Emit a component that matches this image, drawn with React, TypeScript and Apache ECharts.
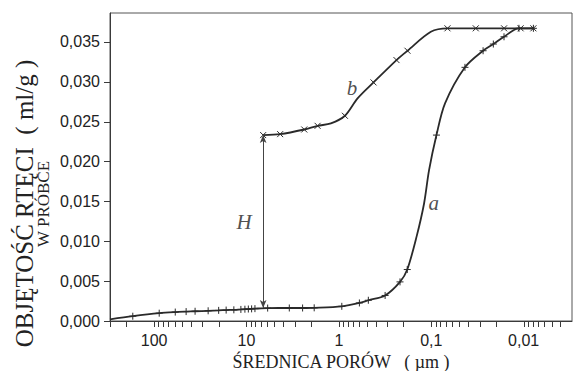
import React, { useEffect, useRef } from 'react';
import * as echarts from 'echarts';

// ---- axis ranges / ticks ----
const X_MIN = 0.003;
const X_MAX = 300;
const X_MAJOR = [0.01, 0.1, 1, 10, 100];
const Y_MIN = 0;
const Y_MAX = 0.0386;
const Y_STEP = 0.005;
const Y_TICKS = [0, 0.005, 0.01, 0.015, 0.02, 0.025, 0.03, 0.035];

// ---- curve a (intrusion, "+" markers) : pore diameter (µm), volume (ml/g), marker flag ----
const A_D = [300, 170, 88, 59, 45, 36, 26, 20, 16.6, 13.7, 11.5, 10.4, 9.55, 8.8, 8.1, 5.9, 3.44, 2.47, 1.85, 0.93, 0.6, 0.48, 0.316, 0.218, 0.182, 0.1445, 0.1197, 0.1057, 0.0879, 0.071, 0.0432, 0.0275, 0.0213, 0.01633, 0.01125, 0.00785];
const A_V = [0.0002, 0.0006, 0.00098, 0.00112, 0.00118, 0.00122, 0.00128, 0.00133, 0.00137, 0.0014, 0.00145, 0.00148, 0.0015, 0.00152, 0.00155, 0.00162, 0.00163, 0.00163, 0.00165, 0.00184, 0.00226, 0.0026, 0.0032, 0.0049, 0.00645, 0.01054, 0.01473, 0.0189, 0.0233, 0.02727, 0.03179, 0.03387, 0.03471, 0.03562, 0.03668, 0.03668];
const A_M = [0, 1, 1, 1, 1, 1, 1, 1, 1, 1, 1, 1, 1, 1, 1, 1, 1, 1, 1, 1, 1, 1, 1, 1, 1, 0, 0, 0, 1, 0, 1, 1, 1, 1, 1, 1];

// ---- curve b (extrusion, "x" markers) ----
const B_D = [6.6, 4.32, 2.37, 1.7, 1.22, 0.861, 0.628, 0.422, 0.238, 0.181, 0.1011, 0.0668, 0.033, 0.0163, 0.0108, 0.00785];
const B_V = [0.0233, 0.02342, 0.024, 0.02446, 0.02476, 0.02572, 0.0279, 0.0299, 0.0327, 0.03387, 0.03625, 0.03668, 0.03668, 0.03668, 0.03668, 0.03668];
const B_M = [1, 1, 1, 1, 0, 1, 0, 1, 1, 1, 0, 1, 1, 1, 1, 1];

// ---- hysteresis arrow H ----
const H_D = 6.6;
const H_V = [0.00163, 0.0233];

// ---- annotations ----
const NOTE_TEXT = ['a', 'b', 'H'];
const NOTE_D = [0.094, 0.722, 10.6];
const NOTE_V = [0.0148, 0.0292, 0.0124];

// ---- titles ----
const X_TITLE = 'ŚREDNICA PORÓW   ( µm )';
const Y_TITLE_1 = 'OBJĘTOŚĆ RTĘCI  ( ml/g )';
const Y_TITLE_2 = 'W PRÓBCE';

const PLUS = 'path://M5,0L5,10M0,5L10,5';
const CROSS = 'path://M0,0L10,10M10,0L0,10';

// minor log ticks (2..9 in every decade inside the axis range)
const X_MINOR: number[] = [];
for (let e = -3; e <= 2; e++) {
  for (let k = 2; k <= 9; k++) {
    const v = parseFloat((k * Math.pow(10, e)).toPrecision(6));
    if (v > X_MIN * 1.01 && v < X_MAX * 0.99) X_MINOR.push(v);
  }
}

const INK = '#2a2a2a';
const AXIS = '#3a3a3a';
const SANS = '"Liberation Sans", Arial, sans-serif';
const SERIF = '"Liberation Serif", "Times New Roman", serif';

function buildData(d: number[], v: number[], m: number[]) {
  return d.map((x, i) => (m[i] ? [x, v[i]] : { value: [x, v[i]], symbol: 'none' }));
}

function fmtX(v: number) {
  return String(parseFloat(v.toPrecision(6))).replace('.', ',');
}

export default function App() {
  const ref = useRef<HTMLDivElement>(null);
  useEffect(() => {
    if (!ref.current) return;
    const chart = echarts.init(ref.current, null, { renderer: 'svg' });
    const titles: any[] = [
      {
        type: 'text',
        x: 24,
        y: 203.5,
        rotation: Math.PI / 2,
        style: {
          text: Y_TITLE_1,
          font: `25px ${SERIF}`,
          fill: '#222',
          textAlign: 'center',
          textVerticalAlign: 'middle',
          verticalAlign: 'middle',
        },
      },
      {
        type: 'text',
        x: 43,
        y: 204,
        rotation: Math.PI / 2,
        style: {
          text: Y_TITLE_2,
          font: `17px ${SERIF}`,
          fill: '#222',
          textAlign: 'center',
          textVerticalAlign: 'middle',
          verticalAlign: 'middle',
        },
      },
    ];
    const option: any = {
      animation: false,
      backgroundColor: '#fff',
      grid: {
        left: 110, right: 1, top: 13, bottom: 50,
        containLabel: false, outerBoundsMode: 'none',
        show: true, borderColor: '#555', borderWidth: 1,
      },
      xAxis: {
        type: 'log',
        logBase: 10,
        inverse: true,
        min: X_MIN,
        max: X_MAX,
        name: X_TITLE,
        nameLocation: 'middle',
        nameGap: 28,
        nameTextStyle: { fontFamily: SERIF, fontSize: 18, color: '#222' },
        axisLine: { show: true, lineStyle: { color: AXIS, width: 1 } },
        axisTick: { show: false },
        axisLabel: {
          show: true,
          margin: 11,
          fontFamily: SANS,
          fontSize: 16,
          color: '#222',
          showMinLabel: false,
          showMaxLabel: false,
          formatter: (v: number) => fmtX(v),
        },
        splitLine: { show: false },
        minorTick: { show: false },
      },
      yAxis: {
        type: 'value',
        min: Y_MIN,
        max: Y_MAX,
        interval: Y_STEP,
        axisLine: { show: true, lineStyle: { color: AXIS, width: 1 } },
        axisTick: { show: false },
        axisLabel: {
          margin: 10,
          fontFamily: SANS,
          fontSize: 16,
          color: '#222',
          showMaxLabel: false,
          formatter: (v: number) => (v > Y_MAX - 0.001 ? '' : v.toFixed(3).replace('.', ',')),
        },
        splitLine: { show: false },
      },
      graphic: titles,
      series: [
        {
          name: 'a',
          type: 'line',
          smooth: 0.3,
          showAllSymbol: true,
          symbol: PLUS,
          symbolSize: 7,
          data: buildData(A_D, A_V, A_M),
          lineStyle: { color: INK, width: 1.8 },
          itemStyle: { color: INK, borderColor: INK, borderWidth: 1 },
          z: 3,
        },
        {
          name: 'b',
          type: 'line',
          smooth: 0.3,
          showAllSymbol: true,
          symbol: CROSS,
          symbolSize: 6,
          data: buildData(B_D, B_V, B_M),
          lineStyle: { color: INK, width: 1.8 },
          itemStyle: { color: INK, borderColor: INK, borderWidth: 1 },
          z: 3,
          markLine: {
            silent: true,
            animation: false,
            symbol: ['arrow', 'arrow'],
            symbolSize: [5, 8],
            label: { show: false },
            lineStyle: { color: '#444', width: 1, type: 'solid' },
            data: [[{ coord: [H_D, H_V[0]] }, { coord: [H_D, H_V[1]] }]],
          },
        },
        {
          type: 'scatter',
          silent: true,
          symbolSize: 0,
          data: NOTE_TEXT.map((t, i) => ({ value: [NOTE_D[i], NOTE_V[i]], name: t })),
          label: {
            show: true,
            position: 'inside',
            formatter: (p: any) => p.name,
            fontFamily: SERIF,
            fontStyle: 'italic',
            fontSize: 21,
            color: '#222',
          },
          z: 4,
        },
      ],
    };
    chart.setOption(option);

    // axis ticks: positions come from the chart's own scales
    const y0 = chart.convertToPixel({ yAxisIndex: 0 }, Y_MIN) as number;
    const xLeft = chart.convertToPixel({ xAxisIndex: 0 }, X_MAX) as number;
    const tickStyle = { stroke: AXIS, lineWidth: 1 };
    const xTicks = [X_MAX, ...X_MAJOR, ...X_MINOR].map((v) => {
      const x = Math.round(chart.convertToPixel({ xAxisIndex: 0 }, v) as number) + 0.5;
      return { type: 'line', silent: true, z: 10, shape: { x1: x, y1: y0, x2: x, y2: y0 + 6 }, style: tickStyle };
    });
    const yTicks = Y_TICKS.map((v) => {
      const y = Math.round(chart.convertToPixel({ yAxisIndex: 0 }, v) as number) + 0.5;
      return { type: 'line', silent: true, z: 10, shape: { x1: xLeft - 6, y1: y, x2: xLeft, y2: y }, style: tickStyle };
    });
    chart.setOption({ graphic: [...titles, ...xTicks, ...yTicks] });
    return () => chart.dispose();
  }, []);
  return (
    <div
      ref={ref}
      style={{ position: 'fixed', left: 0, top: 0, width: 573, height: 371, background: '#fff' }}
    />
  );
}
